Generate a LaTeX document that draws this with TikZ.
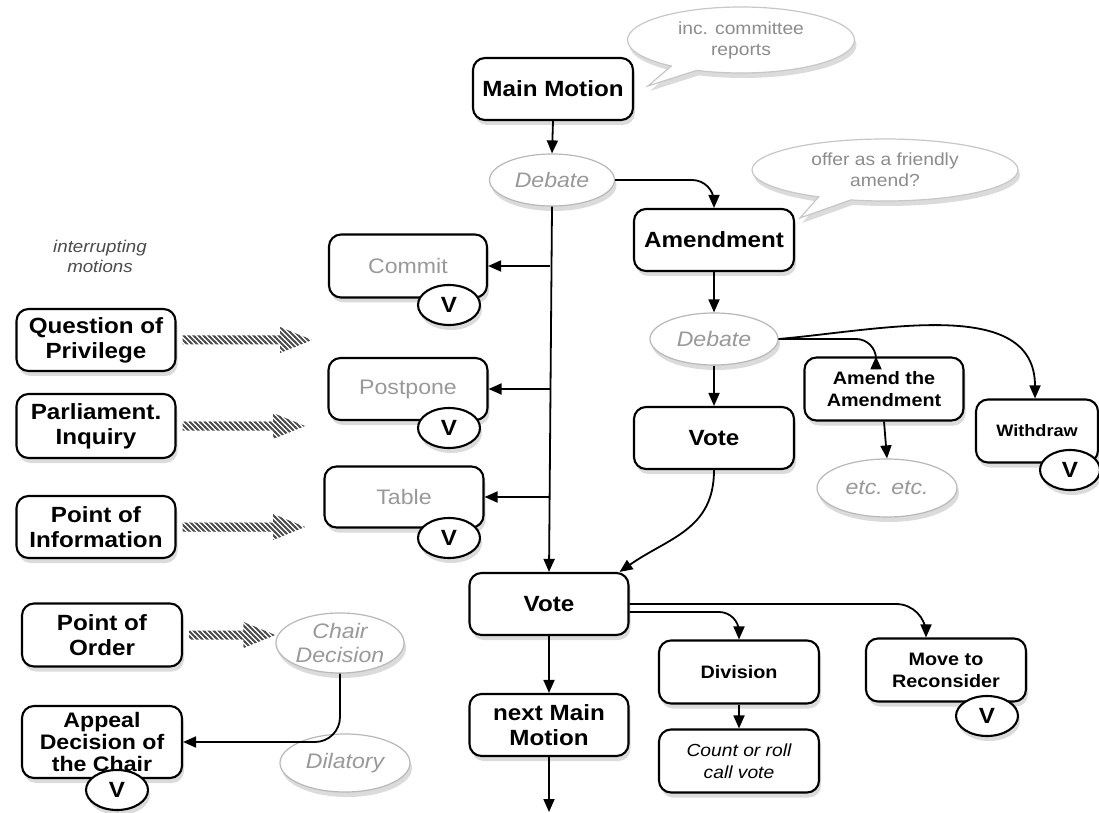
\documentclass[tikz,border=0pt]{standalone}
\usepackage{fontspec}
\setmainfont{Liberation Sans}[FakeStretch=1.1]
\usetikzlibrary{shapes.geometric,shapes.callouts,shadows,patterns,arrows.meta,calc}
\pgfdeclarepatternformonly{hatchstripes}{\pgfqpoint{-1pt}{-1pt}}{\pgfqpoint{6pt}{6pt}}{\pgfqpoint{5pt}{5pt}}{\pgfsetlinewidth{1.8pt}\pgfpathmoveto{\pgfqpoint{-0.5pt}{5.5pt}}\pgfpathlineto{\pgfqpoint{5.5pt}{-0.5pt}}\pgfusepath{stroke}}
\newcommand\hatcharrow[2]{%
  \fill[pattern=hatchstripes, pattern color=black!70] let \p1=(#1), \p2=(#2) in
   (\x1+6pt,\y1+4.5pt) -- (\x2-32pt,\y1+4.5pt) -- (\x2-32pt,\y1+13pt) -- (\x2,\y1)
   -- (\x2-32pt,\y1-13pt) -- (\x2-32pt,\y1-4.5pt) -- (\x1+6pt,\y1-4.5pt) -- cycle;}
\begin{document}
\begin{tikzpicture}[x=1pt,y=1pt,
  shd/.style={drop shadow={opacity=0.28,shadow xshift=2pt,shadow yshift=-5pt}},
  box/.style={draw, line width=2.1pt, rounded corners=12pt, fill=white, minimum width=160pt,
    minimum height=62pt, align=center, inner sep=2pt, font=\fontsize{22}{25}\selectfont\bfseries, shd},
  sbox/.style={box, font=\fontsize{18}{22}\selectfont\bfseries},
  gbox/.style={box, font=\fontsize{21}{24}\selectfont, text=black!40},
  ell/.style={ellipse, draw=black!28, line width=1.2pt, fill=white, inner sep=1pt, align=center,
    font=\fontsize{21}{24}\selectfont\itshape, text=black!40, shd},
  vnode/.style={ellipse, draw, line width=2.1pt, fill=white, minimum width=62pt, minimum height=40pt,
    inner sep=0pt, font=\fontsize{22}{25}\selectfont\bfseries, shd},
  bub/.style={ellipse callout, draw=black!22, line width=1.2pt, fill=white, align=center,
    font=\fontsize{17.5}{21}\selectfont, text=black!45, shd},
  arr/.style={-{Triangle[length=13pt,width=11pt]}, line width=1.8pt},
  note/.style={align=center, font=\fontsize{17}{20}\selectfont\itshape, text=black!70}
]
\useasboundingbox (0,0) rectangle (1099,812);
\clip (0,0) rectangle (1099,812);
\fill[white] (0,0) rectangle (1099,812);

% top
\node[box] (mm) at (553,723) {Main Motion};
\node[bub, minimum width=227pt, minimum height=66pt, callout absolute pointer={(648,726)}] (bub1) at (741,772) {inc. committee\\reports};
\node[ell, minimum width=125pt, minimum height=52pt] (deb1) at (552,632) {Debate};
\node[bub, minimum width=266pt, minimum height=62pt, callout absolute pointer={(800,594)}] (bub2) at (885,642) {offer as a friendly\\amend?};
\node[box] (amend) at (714,572) {Amendment};

% interrupting
\node[note] (intr) at (100,556) {interrupting\\motions};
\node[box, minimum width=159pt] (qp) at (96,472) {Question of\\Privilege};
\node[box, minimum width=159pt, minimum height=64pt] (pi) at (96,386) {Parliament.\\Inquiry};
\node[box, minimum width=159pt] (poi) at (96,285) {Point of\\Information};

% subsidiary
\node[gbox, minimum width=158pt, minimum height=63pt] (commit) at (408,546) {Commit};
\node[gbox, minimum width=159pt] (postpone) at (408,423) {Postpone};
\node[gbox, minimum width=159pt, minimum height=61pt] (table) at (404,315) {Table};
\node[vnode] (commitv) at (449,507) {V};
\node[vnode] (postponev) at (449,384) {V};
\node[vnode] (tablev) at (449,274) {V};

% amendment branch
\node[ell, minimum width=128pt, minimum height=52pt] (deb2) at (714,473) {Debate};
\node[sbox, minimum width=159pt, minimum height=63pt] (aa) at (884,423) {Amend the\\Amendment};
\node[box, minimum width=122pt, minimum height=63pt, font=\fontsize{16.5}{20}\selectfont\bfseries] (wd) at (1037,381) {Withdraw};
\node[vnode, minimum width=60pt] (wdv) at (1070,342) {V};
\node[box] (vote1) at (714,374) {Vote};
\node[ell, minimum width=140pt, minimum height=58pt] (etc) at (887,324) {etc. etc.};

% main vote
\node[box, minimum width=159pt] (vote) at (549,208) {Vote};
\node[sbox, minimum height=63pt] (div) at (739,140) {Division};
\node[sbox, minimum height=63pt] (mr) at (946,142) {Move to\\Reconsider};
\node[vnode] (mrv) at (987,96) {V};
\node[box, minimum width=159pt] (nmm) at (549,87) {next Main\\Motion};
\node[box, minimum height=63pt, font=\fontsize{17.5}{22}\selectfont\itshape] (count) at (739,51) {Count or roll\\call vote};
\coordinate (nmmend) at (549,0);

% point of order
\node[box, minimum height=63pt] (poo) at (102,177) {Point of\\Order};
\node[ell, minimum width=125pt, minimum height=60pt] (chair) at (340,169) {Chair\\Decision};
\node[box, minimum height=72pt, font=\fontsize{21}{22}\selectfont\bfseries] (appeal) at (102,70) {Appeal\\Decision of\\the Chair};
\node[vnode] (appealv) at (117,22) {V};
\node[ell, minimum width=130pt, minimum height=58pt] (dil) at (345,49) {Dilatory};

% connectors
\draw[arr] (mm.south) -- (deb1.north);
\draw[arr, rounded corners=22pt] (deb1.east) -| (amend.north);
\draw[arr] (deb1.south) -- (vote.north);
\coordinate (s1) at (550,546);
\coordinate (s2) at (550,423);
\coordinate (s3) at (550,315);
\draw[arr] (s1) -- (commit.east);
\draw[arr] (s2) -- (postpone.east);
\draw[arr] (s3) -- (table.east);
\draw[arr] (amend.south) -- (deb2.north);
\draw[arr] (deb2.south) -- (vote1.north);
\draw[arr, rounded corners=20pt] (deb2.east) -| ([xshift=-8pt]aa.north);
\draw[arr] (deb2.east) to[out=5,in=90] ([xshift=-2pt]wd.north);
\draw[arr] (aa.south) -- (etc.north);
\draw[arr] (vote1.south) to[out=-90,in=35,looseness=1.1] ([xshift=-10pt]vote.north east);
\draw[arr] (vote.south) -- (nmm.north);
\draw[arr, rounded corners=20pt] ([yshift=-8pt]vote.east) -| (div.north);
\draw[arr, rounded corners=30pt] (vote.east) -| ([xshift=-20pt]mr.north);
\draw[arr] (div.south) -- (count.north);
\draw[arr] (nmm.south) -- (nmmend);
\draw[arr, rounded corners=25pt] (chair.south) |- (appeal.east);

% hatched arrows
\coordinate (qpend) at (312,472);
\coordinate (piend) at (305,385);
\coordinate (poiend) at (305,287);
\hatcharrow{qp.east}{qpend}
\hatcharrow{pi.east}{piend}
\hatcharrow{poi.east}{poiend}
\hatcharrow{poo.east}{chair.west}
\end{tikzpicture}
\end{document}
